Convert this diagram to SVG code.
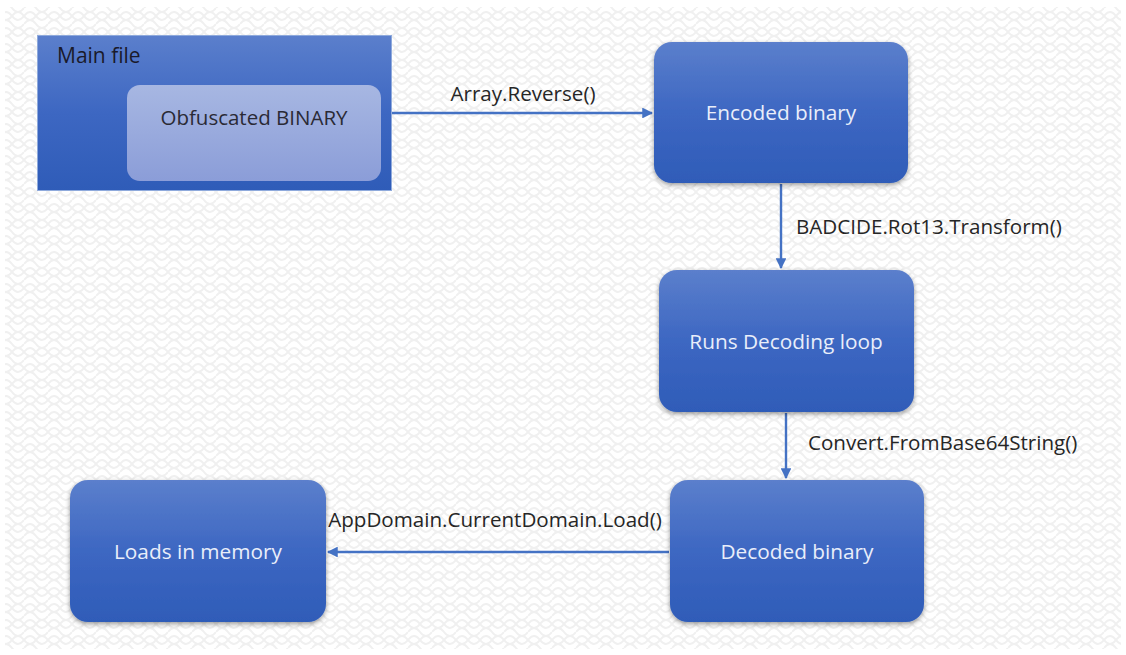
<svg xmlns="http://www.w3.org/2000/svg" width="1126" height="655" viewBox="0 0 1126 655">
<style>
.lbl{font-family:"Open Sans","Noto Sans","Liberation Sans",sans-serif;font-size:20.6px;fill:#262626}
.ntx{font-family:"Open Sans","Noto Sans","Liberation Sans",sans-serif;font-size:20.8px;fill:#e9eefa;text-anchor:middle}
.box{fill:url(#g);filter:url(#sh)}
.con{stroke:#4472c4;stroke-width:2.4;fill:none;marker-end:url(#ah)}
</style>
<defs>
<linearGradient id="g" x1="0" y1="0" x2="0" y2="1">
<stop offset="0" stop-color="#5b7fcc"/>
<stop offset="0.5" stop-color="#3d67c2"/>
<stop offset="1" stop-color="#2f5cb8"/>
</linearGradient>
<linearGradient id="g2" x1="0" y1="0" x2="0" y2="1">
<stop offset="0" stop-color="#a7b7e2"/>
<stop offset="1" stop-color="#8b9dd8"/>
</linearGradient>
<filter id="sh" x="-10%" y="-10%" width="120%" height="125%">
<feGaussianBlur in="SourceAlpha" stdDeviation="2.5"/>
<feOffset dx="0" dy="2" result="b"/>
<feComponentTransfer><feFuncA type="linear" slope="0.4"/></feComponentTransfer>
<feMerge><feMergeNode/><feMergeNode in="SourceGraphic"/></feMerge>
</filter>
<pattern id="bg" width="24" height="16" patternUnits="userSpaceOnUse">
<path d="M0 8 Q6 0 12 8 Q18 16 24 8 M0 0 Q6 8 12 0 M12 16 Q18 8 24 16 M0 16 Q6 8 12 16 M12 0 Q18 8 24 0" stroke="#f0f0f0" stroke-width="2" fill="none"/>
</pattern>
<marker id="ah" viewBox="0 0 10 10" refX="9" refY="5" markerWidth="4.5" markerHeight="4.5" orient="auto">
<path d="M0 0 L10 5 L0 10 Z" fill="#4472c4"/>
</marker>
</defs>
<rect width="1126" height="655" fill="#ffffff"/>
<rect x="5" y="7" width="1116" height="642" fill="url(#bg)"/>
<g id="connectors">
<line class="con" x1="392" y1="113" x2="652" y2="113"/>
<line class="con" x1="781" y1="184" x2="781" y2="268"/>
<line class="con" x1="786" y1="413" x2="786" y2="478"/>
<line class="con" x1="669" y1="552" x2="328" y2="552"/>
<text class="lbl" x="523" y="101" text-anchor="middle">Array.Reverse()</text>
<text class="lbl" x="796" y="234">BADCIDE.Rot13.Transform()</text>
<text class="lbl" x="808" y="450">Convert.FromBase64String()</text>
<text class="lbl" x="495" y="527" text-anchor="middle">AppDomain.CurrentDomain.Load()</text>
</g>
<g id="main-file">
<rect x="37.5" y="35.5" width="354" height="155" fill="url(#g)" stroke="#8faadc" stroke-width="1"/>
<text x="57" y="63" style="font-family:'Open Sans','Noto Sans','Liberation Sans',sans-serif;font-size:21px;fill:#1a1a2a">Main file</text>
</g>
<g id="obfuscated-binary">
<rect x="127" y="85" width="254" height="96" rx="13" fill="url(#g2)"/>
<text x="254" y="125" text-anchor="middle" style="font-family:'Open Sans','Noto Sans','Liberation Sans',sans-serif;font-size:20.5px;fill:#2a2a35">Obfuscated BINARY</text>
</g>
<g id="encoded-binary">
<rect class="box" x="654" y="42" width="254" height="141" rx="18"/>
<text class="ntx" x="781" y="120">Encoded binary</text>
</g>
<g id="runs-decoding-loop">
<rect class="box" x="659" y="270" width="255" height="142" rx="18"/>
<text class="ntx" x="786" y="349">Runs Decoding loop</text>
</g>
<g id="decoded-binary">
<rect class="box" x="670" y="480" width="254" height="142" rx="18"/>
<text class="ntx" x="797" y="559">Decoded binary</text>
</g>
<g id="loads-in-memory">
<rect class="box" x="70" y="480" width="256" height="142" rx="18"/>
<text class="ntx" x="198" y="559">Loads in memory</text>
</g>
</svg>
